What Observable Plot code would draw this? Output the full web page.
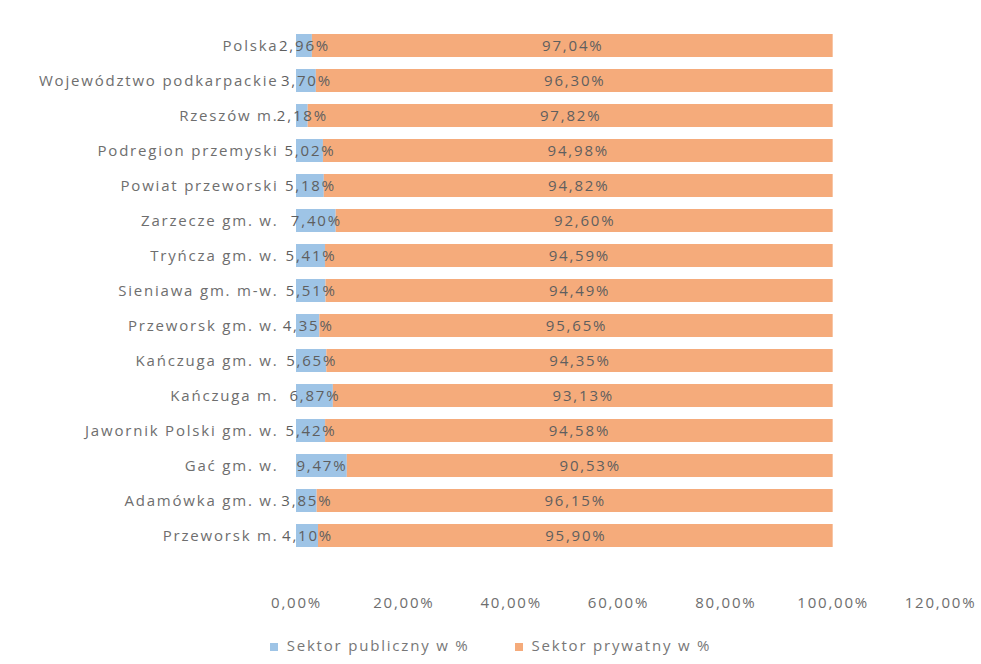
<!DOCTYPE html>
<html>
<head>
<meta charset="utf-8">
<script src="https://cdn.jsdelivr.net/npm/d3@7"></script>
<script src="https://cdn.jsdelivr.net/npm/@observablehq/plot@0.6"></script>
<style>
  html, body { margin: 0; padding: 0; background: #fff; }
  #chart { width: 981px; }
  #chart svg text { letter-spacing: 1.8px; }
  .legend { display: flex; justify-content: center; gap: 45px; font-family: "Open Sans", sans-serif; font-size: 15px; letter-spacing: 1.8px; color: #777; height: 50px; align-items: center; }
  .legend span.sw { display: inline-block; width: 8px; height: 8px; margin-right: 9px; vertical-align: middle; }
</style>
</head>
<body>
<div id="chart"></div>
<script>
const categories = [
  "Polska",
  "Województwo podkarpackie",
  "Rzeszów m.",
  "Podregion przemyski",
  "Powiat przeworski",
  "Zarzecze gm. w.",
  "Tryńcza gm. w.",
  "Sieniawa gm. m-w.",
  "Przeworsk gm. w.",
  "Kańczuga gm. w.",
  "Kańczuga m.",
  "Jawornik Polski gm. w.",
  "Gać gm. w.",
  "Adamówka gm. w.",
  "Przeworsk m."
];
const publiczny = [2.96, 3.70, 2.18, 5.02, 5.18, 7.40, 5.41, 5.51, 4.35, 5.65, 6.87, 5.42, 9.47, 3.85, 4.10];
const prywatny = [97.04, 96.30, 97.82, 94.98, 94.82, 92.60, 94.59, 94.49, 95.65, 94.35, 93.13, 94.58, 90.53, 96.15, 95.90];
const seriesNames = ["Sektor publiczny w %", "Sektor prywatny w %"];
const seriesColors = ["#9ec4e6", "#f5ab7b"];
const xTicks = [0, 20, 40, 60, 80, 100, 120];

const data = [];
categories.forEach((c, i) => {
  data.push({category: c, sector: seriesNames[0], value: publiczny[i]});
  data.push({category: c, sector: seriesNames[1], value: prywatny[i]});
});
const fmt = v => v.toFixed(2).replace(".", ",") + "%";
const fontFamily = "'Open Sans', sans-serif";

const chart = Plot.plot({
  width: 981,
  height: 620,
  marginTop: 15,
  marginBottom: 54,
  marginLeft: 296,
  marginRight: 41,
  style: {fontFamily, fontSize: "15px", color: "#6e6e6e", background: "#fff"},
  x: {domain: [0, 120], ticks: xTicks, tickFormat: fmt, tickSize: 0, tickPadding: 31, label: null},
  y: {domain: categories, padding: 0.33, tickSize: 0, tickPadding: 18, label: null},
  color: {domain: seriesNames, range: seriesColors},
  marks: [
    Plot.barX(data, Plot.stackX({x: "value", y: "category", fill: "sector", order: seriesNames})),
    Plot.text(data, Plot.stackX({
      x: "value", y: "category", z: "sector", order: seriesNames,
      text: d => fmt(d.value), fill: "#5f5f5f", fontSize: 15, textAnchor: "middle"
    }))
  ]
});
document.getElementById("chart").appendChild(chart);

const legend = document.createElement("div");
legend.className = "legend";
seriesNames.forEach((n, i) => {
  const item = document.createElement("div");
  item.innerHTML = `<span class="sw" style="background:${seriesColors[i]}"></span>${n}`;
  legend.appendChild(item);
});
document.body.appendChild(legend);
</script>
</body>
</html>
